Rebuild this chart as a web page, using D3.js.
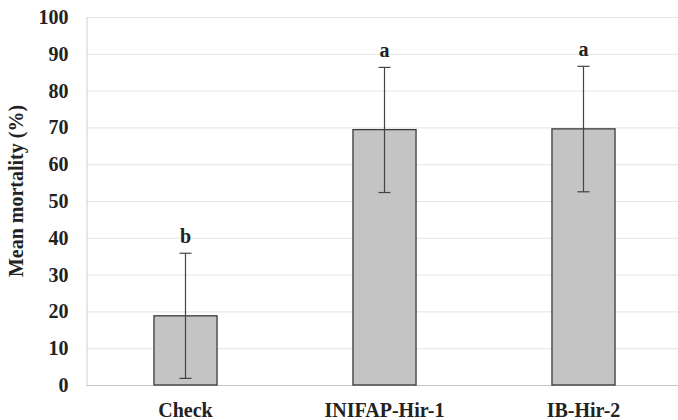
<!DOCTYPE html>
<html>
<head>
<meta charset="utf-8">
<script src="https://cdn.jsdelivr.net/npm/d3@7"></script>
<style>
  body { margin: 0; background: #fff; }
  text { font-family: "Liberation Serif", "Times New Roman", serif; font-weight: bold; fill: #222; }
</style>
</head>
<body>
<div id="chart"></div>
<script>
// data
const treatments = ["Check", "INIFAP-Hir-1", "IB-Hir-2"];
const meanMortality = [18.8, 69.4, 69.6];
const errorUpper = [35.8, 86.3, 86.6];
const errorLower = [1.8, 52.3, 52.5];
const groupLetters = ["b", "a", "a"];
const yTicks = [0, 10, 20, 30, 40, 50, 60, 70, 80, 90, 100];

const WIDTH = 678, HEIGHT = 420;
const PLOT_LEFT = 86, PLOT_RIGHT = 683, PLOT_TOP = 17, PLOT_BOTTOM = 385;
const FONT_SIZE = 20;

const svg = d3.select("#chart").append("svg")
    .attr("width", WIDTH)
    .attr("height", HEIGHT);

const x = d3.scaleBand()
    .domain(treatments)
    .range([PLOT_LEFT, PLOT_RIGHT])
    .paddingInner(0.683)
    .paddingOuter(0.3415);

const y = d3.scaleLinear()
    .domain([0, 100])
    .range([PLOT_BOTTOM, PLOT_TOP]);

// gridlines
svg.append("g")
    .selectAll("line")
    .data(yTicks)
    .join("line")
    .attr("x1", PLOT_LEFT)
    .attr("x2", PLOT_RIGHT)
    .attr("y1", d => y(d) + 0.5)
    .attr("y2", d => y(d) + 0.5)
    .attr("stroke", d => d === 0 ? "#c8c8c8" : "#e4e4e4")
    .attr("stroke-width", 1);

// y axis
const yAxis = svg.append("g")
    .attr("transform", `translate(${PLOT_LEFT + 0.5},0)`)
    .call(d3.axisLeft(y).tickValues(yTicks).tickSize(0).tickPadding(18));
yAxis.select(".domain").attr("stroke", "#d0d0d0");
yAxis.selectAll("text")
    .attr("font-size", FONT_SIZE)
    .attr("font-family", "Liberation Serif")
    .attr("font-weight", "bold")
    .attr("fill", "#222");

// x axis labels
const xAxis = svg.append("g")
    .attr("transform", `translate(0,${PLOT_BOTTOM})`)
    .call(d3.axisBottom(x).tickSize(0).tickPadding(18));
xAxis.select(".domain").remove();
xAxis.selectAll("text")
    .attr("font-size", FONT_SIZE)
    .attr("font-family", "Liberation Serif")
    .attr("font-weight", "bold")
    .attr("fill", "#222");

// bars
svg.append("g")
    .selectAll("rect")
    .data(treatments)
    .join("rect")
    .attr("x", d => x(d))
    .attr("y", (d, i) => y(meanMortality[i]))
    .attr("width", x.bandwidth())
    .attr("height", (d, i) => y(0) - y(meanMortality[i]))
    .attr("fill", "#c4c4c4")
    .attr("stroke", "#3a3a3a")
    .attr("stroke-width", 1.3);

// error bars
const errG = svg.append("g").attr("stroke", "#444").attr("stroke-width", 1.2);
treatments.forEach((t, i) => {
    const cx = x(t) + x.bandwidth() / 2;
    errG.append("line")
        .attr("x1", cx).attr("x2", cx)
        .attr("y1", y(errorUpper[i])).attr("y2", y(errorLower[i]));
    [errorUpper[i], errorLower[i]].forEach(v => {
        errG.append("line")
            .attr("x1", cx - 6).attr("x2", cx + 6)
            .attr("y1", y(v)).attr("y2", y(v));
    });
});

// significance letters
svg.append("g")
    .selectAll("text")
    .data(treatments)
    .join("text")
    .attr("x", d => x(d) + x.bandwidth() / 2)
    .attr("y", (d, i) => y(errorUpper[i]) - 10)
    .attr("text-anchor", "middle")
    .attr("font-size", FONT_SIZE)
    .text((d, i) => groupLetters[i]);

// y axis title
svg.append("text")
    .attr("transform", `translate(23,${(PLOT_TOP + PLOT_BOTTOM) / 2 - 10}) rotate(-90)`)
    .attr("text-anchor", "middle")
    .attr("font-size", FONT_SIZE)
    .text("Mean mortality (%)");
</script>
</body>
</html>
